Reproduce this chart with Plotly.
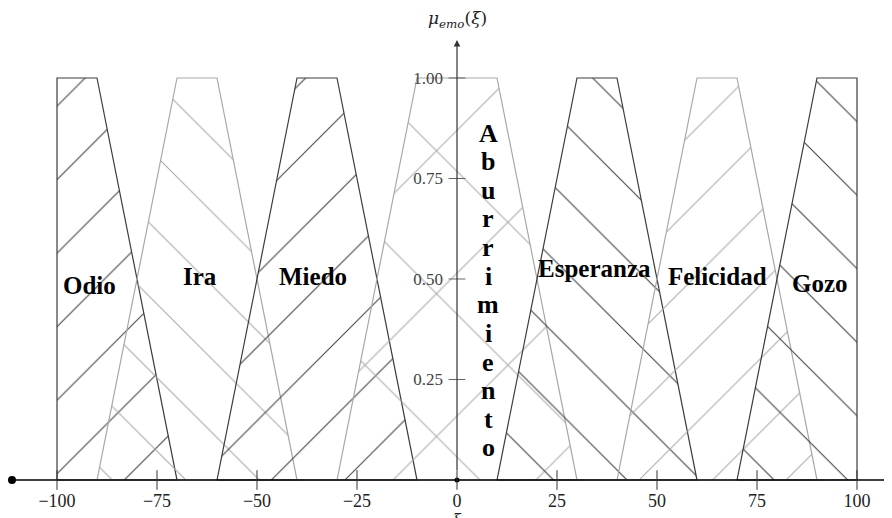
import plotly.graph_objects as go

# Membership functions (trapezoids a-b-c-d)
names = ["Odio", "Ira", "Miedo", "Aburrimiento", "Esperanza", "Felicidad", "Gozo"]
a = [-100, -90, -60, -30, 10, 40, 70]
b = [-100, -70, -40, -10, 30, 60, 90]
c = [-90, -60, -30, 10, 40, 70, 100]
d = [-70, -40, -10, 30, 60, 90, 100]
tone = ["dark", "light", "dark", "light", "dark", "light", "dark"]
hatch = ["/", "\\", "/", "x", "\\", "/", "\\"]
label_x = [-92, -64.25, -36, 7.75, 34.4, 65, 90.75]
label_y = [0.485, 0.507, 0.505, 0.863, 0.527, 0.505, 0.49]  # Aburrimiento: first letter

x_ticks = [-100, -75, -50, -25, 0, 25, 50, 75, 100]
x_tick_text = ["−100", "−75", "−50", "−25", "0", "25", "50", "75", "100"]
y_ticks = [0.25, 0.5, 0.75, 1.0]
y_tick_text = ["0.25", "0.50", "0.75", "1.00"]

# page body has an 8px margin, so the figure is sized to the remaining view
W, H = 884, 510
X0, X1 = -112.25, 108.75
Y0, Y1 = -0.0945, 1.1741
LETTER_STEP = 0.0712  # vertical step of the stacked letters (data units)

col = {"dark": "#3c3c3c", "light": "#a8a8a8"}
hsize = {"/": 52, "\\": 52, "x": 101}

fig = go.Figure()

for i, n in enumerate(names):
    fig.add_trace(go.Scatter(
        x=[a[i], b[i], c[i], d[i], a[i]],
        y=[0, 1, 1, 0, 0],
        mode="lines",
        fill="toself",
        fillcolor="rgba(0,0,0,0)",
        fillpattern=dict(shape=hatch[i], size=hsize[hatch[i]], solidity=0.02,
                         fgcolor=col[tone[i]], fillmode="replace"),
        line=dict(color=col[tone[i]], width=1.2),
        hoverinfo="skip",
    ))

# x axis line with start dot
fig.add_trace(go.Scatter(x=[-111.25, X1], y=[0, 0], mode="lines",
                         line=dict(color="black", width=1.6), hoverinfo="skip"))
fig.add_trace(go.Scatter(x=[-111.25], y=[0], mode="markers",
                         marker=dict(color="black", size=8), hoverinfo="skip", cliponaxis=False))
fig.add_trace(go.Scatter(x=[0], y=[0], mode="markers",
                         marker=dict(color="black", size=5), hoverinfo="skip"))
# crossing tick marks
fig.add_trace(go.Scatter(x=x_ticks, y=[0] * len(x_ticks), mode="markers",
                         marker=dict(symbol="line-ns-open", size=14, color="#333",
                                     line=dict(color="#333", width=1)), hoverinfo="skip"))
fig.add_trace(go.Scatter(x=[0] * len(y_ticks), y=y_ticks, mode="markers",
                         marker=dict(symbol="line-ew-open", size=12, color="#666",
                                     line=dict(color="#666", width=1)), hoverinfo="skip"))

annotations = []
# y axis with arrow
annotations.append(dict(x=0, y=1.0945, ax=0, ay=0, xref="x", yref="y", axref="x", ayref="y",
                        text=" ", showarrow=True, arrowhead=2, arrowsize=1.1, arrowwidth=1.2,
                        arrowcolor="#333"))
annotations.append(dict(x=0, y=1.145, xref="x", yref="y", showarrow=False,
                        text="<i>μ<sub>emo</sub></i>(<i>ξ</i>)",
                        font=dict(family="DejaVu Serif", size=17, color="#222")))
annotations.append(dict(x=0, y=-0.073, xref="x", yref="y", showarrow=False, yanchor="top",
                        text="<i>ξ</i>", font=dict(family="DejaVu Serif", size=14, color="#222")))

for i, n in enumerate(names):
    if n == "Aburrimiento":
        for k, ch in enumerate(n):
            annotations.append(dict(x=label_x[i], y=label_y[i] - k * LETTER_STEP,
                                    xref="x", yref="y", showarrow=False,
                                    text="<b>" + ch + "</b>",
                                    font=dict(family="Liberation Serif", size=26, color="black")))
    else:
        annotations.append(dict(x=label_x[i], y=label_y[i], xref="x", yref="y", showarrow=False,
                                text="<b>" + n + "</b>",
                                font=dict(family="Liberation Serif", size=25, color="black")))

fig.update_layout(
    width=W, height=H,
    margin=dict(l=0, r=0, t=0, b=0),
    paper_bgcolor="white", plot_bgcolor="white",
    showlegend=False,
    annotations=annotations,
    xaxis=dict(range=[X0, X1], domain=[0, 1], anchor="free", position=(0 - Y0) / (Y1 - Y0),
               showgrid=False, zeroline=False, showline=False, ticks="", automargin=False,
               tickvals=x_ticks, ticktext=x_tick_text, ticklabelstandoff=8,
               tickfont=dict(family="Liberation Serif", size=18, color="#222")),
    yaxis=dict(range=[Y0, Y1], domain=[0, 1], anchor="free", position=(0 - X0) / (X1 - X0),
               showgrid=False, zeroline=False, showline=False, ticks="", automargin=False,
               tickvals=y_ticks, ticktext=y_tick_text, ticklabelstandoff=14,
               tickfont=dict(family="Liberation Serif", size=17, color="#444")),
)

fig.write_html("out.html")
